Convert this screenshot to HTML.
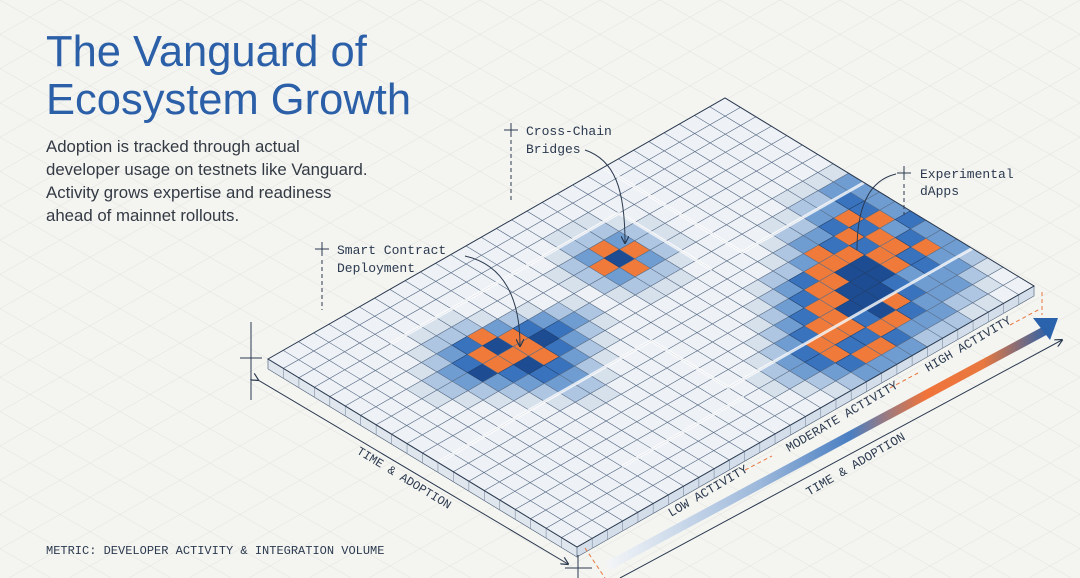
<!DOCTYPE html>
<html><head><meta charset="utf-8">
<style>
html,body{margin:0;padding:0;background:#f4f4f1;width:1080px;height:578px;overflow:hidden}
svg{display:block}
.mono{font-family:"Liberation Mono",monospace}
.sans{font-family:"Liberation Sans",sans-serif}
</style></head>
<body>
<svg id="chart" width="1080" height="578" viewBox="0 0 1080 578" xmlns="http://www.w3.org/2000/svg">
<defs>
 <pattern id="bgp" width="60" height="34.3" patternUnits="userSpaceOnUse">
  <path d="M0 0 L60 34.3 M60 0 L0 34.3" stroke="#e6e6e2" stroke-width="0.7" fill="none"/>
 </pattern>
 <linearGradient id="bandg" x1="0" y1="0" x2="1" y2="0">
  <stop offset="0" stop-color="#f4f6f8"/>
  <stop offset="0.35" stop-color="#9bb7da"/>
  <stop offset="0.55" stop-color="#4a7fc2"/>
  <stop offset="0.72" stop-color="#f0743a"/>
  <stop offset="0.85" stop-color="#e8783f"/>
  <stop offset="1" stop-color="#2a62ab"/>
 </linearGradient>
 <marker id="ah" markerWidth="8" markerHeight="8" refX="7" refY="4" orient="auto"><path d="M0 0 L8 4 L0 8" fill="none" stroke="#2b3a4f" stroke-width="1.2"/></marker>
</defs>
<rect width="1080" height="578" fill="#f4f4f1"/>
<rect width="1080" height="578" fill="url(#bgp)"/>
<g id="platform"></g>
<g id="overlay">
 <text class="sans" x="46" y="66" font-size="43.5" fill="#2b5fa8">The Vanguard of</text>
 <text class="sans" x="46" y="114" font-size="43.5" fill="#2b5fa8">Ecosystem Growth</text>
 <g class="sans" font-size="16.8" fill="#333a44">
  <text x="46" y="152">Adoption is tracked through actual</text>
  <text x="46" y="175">developer usage on testnets like Vanguard.</text>
  <text x="46" y="198">Activity grows expertise and readiness</text>
  <text x="46" y="221">ahead of mainnet rollouts.</text>
 </g>
 <text class="mono" x="46" y="554" font-size="12" fill="#2b3a4f">METRIC: DEVELOPER ACTIVITY &amp; INTEGRATION VOLUME</text>

 <g stroke="#2b3a4f" fill="none" stroke-width="1">
  <path d="M504 130 H518 M511 123 V137"/>
  <path d="M511 140 V200" stroke-dasharray="4 3"/>
  <path d="M585 150 C615 160 625 190 625 243" marker-end="url(#ah)"/>
 </g>
 <g class="mono" font-size="13" fill="#2b3a4f">
  <text x="526" y="135">Cross-Chain</text><text x="526" y="153">Bridges</text>
 </g>
 <g stroke="#2b3a4f" fill="none" stroke-width="1">
  <path d="M315 249 H329 M322 242 V256"/>
  <path d="M322 260 V310" stroke-dasharray="4 3"/>
  <path d="M465 256 C505 265 520 300 520 346" marker-end="url(#ah)"/>
 </g>
 <g class="mono" font-size="13" fill="#2b3a4f">
  <text x="337" y="254">Smart Contract</text><text x="337" y="272">Deployment</text>
 </g>
 <g stroke="#2b3a4f" fill="none" stroke-width="1">
  <path d="M897 173 H911 M904 166 V180"/>
  <path d="M904 184 V215" stroke-dasharray="4 3"/>
  <path d="M896 174 C870 180 857 205 857 250"/>
 </g>
 <g class="mono" font-size="13" fill="#2b3a4f">
  <text x="920" y="178">Experimental</text><text x="920" y="195">dApps</text>
 </g>

 <g stroke="#2b3a4f" fill="none" stroke-width="1">
  <path d="M240 358 H262 M251 322 V400"/>
  <path d="M258 380 L568 564" marker-end="url(#ah)" marker-start="url(#ah)"/>
  <path d="M565 568 H592 M578 555 V578"/>
 </g>
 <text class="mono" font-size="12" fill="#2b3a4f" transform="translate(356,453) rotate(31.3)">TIME &amp; ADOPTION</text>

 <path d="M606 562 L1046 325 L1050 333 L610 570 Z" fill="url(#bandg)"/>
 <path d="M1058 318 L1033 318 L1050 340 Z" fill="#2a62ab"/>
 <path d="M620 578 L1062 340" stroke="#2b3a4f" stroke-width="1" fill="none" marker-end="url(#ah)"/>
 <g stroke="#e8783f" stroke-dasharray="4 3" stroke-width="1" fill="none">
  <path d="M745 470 L772 456"/><path d="M890 388 L918 373"/><path d="M1010 325 L1040 309"/>
  <path d="M1042 292 V315"/><path d="M585 548 L605 578"/>
 </g>
 <g class="mono" font-size="12.5" fill="#2b3a4f">
  <text transform="translate(671,517) rotate(-30.5)">LOW ACTIVITY</text>
  <text transform="translate(789,452) rotate(-30.5)">MODERATE ACTIVITY</text>
  <text transform="translate(928,372) rotate(-30.5)">HIGH ACTIVITY</text>
  <text transform="translate(809,496) rotate(-30.5)">TIME &amp; ADOPTION</text>
 </g>
</g>
</svg>
<script>
// heatmap intensity rows (v = row toward bottom corner, u = column toward top corner)
// 0-5 = blue intensity levels, 6 = orange highlight
const heatRows = [
"000000000000000000000000000000",
"000000000000000000000000000000",
"000000000000000011100000000000",
"000000111000000122210000000000",
"000001222100001236321000000000",
"000012346321001265621000000000",
"000123465643210236321000000000",
"000123566654320122210000001111",
"000012345643210011100000112233",
"000001234432100000000001223343",
"000000123321000000000012334643",
"000000012210000000001223646463",
"000000001100000000012346664634",
"000000000000000000123466556643",
"000000000000000001234665556463",
"000000000000000012346655543433",
"000000000000000123466645643332",
"000000000000000123464466433321",
"000000000000000012346643332210",
"000000000000000001233332221100"
];
const levelColors = ["#eef1f5","#d7e1ec","#aec6e2","#6f9dd2","#3a73bd","#1d4c92","#f07a3a"];
const NU = 30, NV = 20;
const L = [268,359], UVEC = [457/NU, -261/NU], VVEC = [309/NV, 188/NV], DEPTH = 10;
function P(u,v){ return [L[0]+u*UVEC[0]+v*VVEC[0], L[1]+u*UVEC[1]+v*VVEC[1]]; }
function pts(a){ return a.map(p=>p[0].toFixed(1)+","+p[1].toFixed(1)).join(" "); }
const g = document.getElementById('platform');
const NS = "http://www.w3.org/2000/svg";
const sideL = document.createElementNS(NS,'polygon');


const b0=P(0,0), b1=P(0,NV), b2=P(NU,NV);
sideL.setAttribute('points', pts([b0,b1,[b1[0],b1[1]+DEPTH],[b0[0],b0[1]+DEPTH]]));
sideL.setAttribute('fill','#dfe6ee'); sideL.setAttribute('stroke','#4a5b72'); sideL.setAttribute('stroke-width','0.6');
g.appendChild(sideL);
const sideR = document.createElementNS(NS,'polygon');


sideR.setAttribute('points', pts([b1,b2,[b2[0],b2[1]+DEPTH],[b1[0],b1[1]+DEPTH]]));
sideR.setAttribute('fill','#d3deea'); sideR.setAttribute('stroke','#4a5b72'); sideR.setAttribute('stroke-width','0.6');
g.appendChild(sideR);
for(let v=0; v<=NV; v++){ const p=P(0,v); const l=document.createElementNS(NS,'line');
 
 
 l.setAttribute('x1',p[0]);l.setAttribute('y1',p[1]);l.setAttribute('x2',p[0]);l.setAttribute('y2',p[1]+DEPTH);
 l.setAttribute('stroke','#7d8ca0');l.setAttribute('stroke-width','0.6');g.appendChild(l);}
for(let u=0; u<=NU; u++){ const p=P(u,NV); const l=document.createElementNS(NS,'line');
 
 
 l.setAttribute('x1',p[0]);l.setAttribute('y1',p[1]);l.setAttribute('x2',p[0]);l.setAttribute('y2',p[1]+DEPTH);
 l.setAttribute('stroke','#7d8ca0');l.setAttribute('stroke-width','0.6');g.appendChild(l);}
for(let v=0; v<NV; v++){
 const row = heatRows[v] || "";
 for(let u=0; u<NU; u++){
  const lv = parseInt(row.charAt(u) || "0",10) || 0;
  const c = document.createElementNS(NS,'polygon');
  
  
  c.setAttribute('points', pts([P(u,v),P(u+1,v),P(u+1,v+1),P(u,v+1)]));
  c.setAttribute('fill', levelColors[lv]);
  c.setAttribute('stroke', lv>=4 && lv!==6 ? '#21406e' : '#5a6e88');
  c.setAttribute('stroke-width','0.55');
  g.appendChild(c);
 }
}
const paths = [[0,11,14,11],[14,11,14,16],[14,16,30,16],[5,3,20,3],[20,3,20,9],[22,0,22,9],[22,9,30,9],[6,17,14,17]];
paths.forEach(q=>{ const a=P(q[0],q[1]), b=P(q[2],q[3]); const l=document.createElementNS(NS,'line');
 
 
 l.setAttribute('x1',a[0]);l.setAttribute('y1',a[1]);l.setAttribute('x2',b[0]);l.setAttribute('y2',b[1]);
 l.setAttribute('stroke','#ffffff');l.setAttribute('stroke-width','3');l.setAttribute('opacity','0.8');g.appendChild(l);});
const o = document.createElementNS(NS,'polygon');


o.setAttribute('points', pts([P(0,0),P(NU,0),P(NU,NV),P(0,NV)]));
o.setAttribute('fill','none'); o.setAttribute('stroke','#2b3a4f'); o.setAttribute('stroke-width','1');
g.appendChild(o);
</script>
</body></html>
